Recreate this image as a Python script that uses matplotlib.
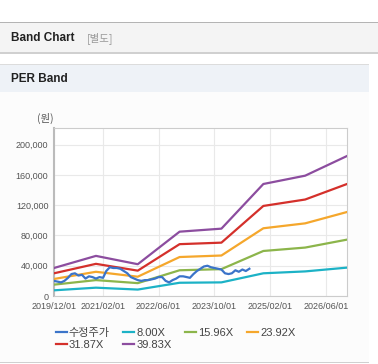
import matplotlib
matplotlib.use('Agg')
import matplotlib.pyplot as plt
import matplotlib.dates as mdates
from matplotlib.patches import Rectangle
import pandas as pd

plt.rcParams['font.family'] = ['Liberation Sans', 'Noto Sans CJK KR', 'DejaVu Sans']

# adjusted price, monthly from 2019/12
price = [20, 19, 18, 20, 24, 29, 30, 27, 28, 23, 26, 25,
         23, 25, 24, 33, 38, 37, 37, 36, 33, 30, 25, 23,
         21, 20, 21, 21, 22, 23, 25, 25, 20, 18, 21, 23,
         26, 26, 25, 24, 29, 33, 36, 39, 40, 38, 37, 36,
         35, 30, 29, 30, 34, 32, 35, 33, 36]
price = [p * 1000 for p in price]
price_dates = pd.date_range('2019-12-01', periods=len(price), freq='MS')

# PER band anchor points (yearly, December)
band_dates = pd.to_datetime(['2019-12-01', '2020-12-01', '2021-12-01', '2022-12-01',
                             '2023-12-01', '2024-12-01', '2025-12-01', '2026-12-01'])
band_8 = [7.5, 11, 8.5, 17.5, 18, 30, 32.5, 37.5]
band_1596 = [15, 21, 17, 34, 35.5, 59.5, 64, 74.5]
band_2392 = [22.5, 32, 25.5, 51.5, 53.5, 89.5, 96, 111]
band_3187 = [30, 42.5, 33.5, 68.5, 70.5, 119, 127.5, 148]
band_3983 = [37, 53, 42, 85, 89, 148, 159, 185]

labels = ['수정주가', '8.00X', '15.96X', '23.92X', '31.87X', '39.83X']
colors = ['#3b74c9', '#1cb2c6', '#8cb54b', '#f5a72c', '#d4302b', '#8c4d9f']
tick_dates = pd.to_datetime(['2019-12-01', '2021-02-01', '2022-06-01',
                             '2023-10-01', '2025-02-01', '2026-06-01'])

W, H = 378, 364
fig = plt.figure(figsize=(W / 100, H / 100), dpi=100)
fig.patch.set_facecolor('white')


def px_rect(x0, y0, x1, y1, fc):
    fig.patches.append(Rectangle((x0 / W, 1 - y1 / H), (x1 - x0) / W, (y1 - y0) / H,
                                 transform=fig.transFigure, fc=fc, ec='none', lw=0,
                                 zorder=-5))


# header bars
px_rect(0, 22, W, 23, '#b4b4b4')
px_rect(0, 23, W, 52, '#f4f4f4')
px_rect(0, 52, W, 54, '#d0d0d0')
px_rect(0, 64, 369, 65, '#dcdcdc')
px_rect(0, 65, 369, 92, '#eef2f7')
px_rect(0, 92, 369, 362, '#fcfcfc')
px_rect(0, 362, 369, 363, '#d0d0d0')

fig.text(11 / W, 1 - 38 / H, 'Band Chart', fontsize=8.5, fontweight='bold',
         color='#222222', va='center')
fig.text(87 / W, 1 - 38 / H, '[별도]', fontsize=7.5, color='#999999', va='center',
         family=['Noto Sans CJK KR', 'DejaVu Sans'])
fig.text(11 / W, 1 - 79 / H, 'PER Band', fontsize=8.5, fontweight='bold',
         color='#222222', va='center')
fig.text(45 / W, 1 - 118 / H, '(원)', fontsize=7.5, color='#555555',
         va='center', ha='center', family=['Noto Sans CJK KR', 'DejaVu Sans'])

ax = fig.add_axes([54 / W, 1 - 296 / H, (347 - 54) / W, (296 - 128) / H])
ax.set_zorder(2)
ax.set_facecolor('white')

ax.plot(price_dates, price, color=colors[0], lw=1.6, label=labels[0], zorder=4)
for vals, c, lab in zip([band_8, band_1596, band_2392, band_3187, band_3983],
                        colors[1:], labels[1:]):
    ax.plot(band_dates, [v * 1000 for v in vals], color=c, lw=1.6, label=lab, zorder=3)

ax.set_xlim(pd.Timestamp('2019-12-01'), pd.Timestamp('2026-12-01'))
ax.set_ylim(0, 222000)
ax.set_yticks(range(0, 200001, 40000))
ax.set_yticklabels([f'{v:,}' for v in range(0, 200001, 40000)])
ax.set_xticks(tick_dates)
ax.xaxis.set_major_formatter(mdates.DateFormatter('%Y/%m/%d'))
ax.tick_params(length=0, labelsize=6.5, labelcolor='#555555', pad=4)
ax.grid(True, color='#e9e9e9', lw=0.8)
ax.set_axisbelow(True)
for s in ax.spines.values():
    s.set_color('#cccccc')
    s.set_linewidth(0.8)
ax.spines['left'].set_color('#bbbbbb')
ax.spines['left'].set_linewidth(1.5)

handles, labs = ax.get_legend_handles_labels()
order = [0, 4, 1, 5, 2, 3]
leg = fig.legend([handles[i] for i in order], [labs[i] for i in order],
                 loc='upper left', bbox_to_anchor=(50 / W, 1 - 322 / H), ncol=4,
                 frameon=False, fontsize=8, handlelength=1.0, handletextpad=0.2,
                 columnspacing=1.2, labelspacing=0.2, borderpad=0)
for t in leg.get_texts():
    t.set_color('#444444')
    t.set_family(['Liberation Sans', 'Noto Sans CJK KR'])

fig.savefig('out.png', dpi=100, facecolor='white')
